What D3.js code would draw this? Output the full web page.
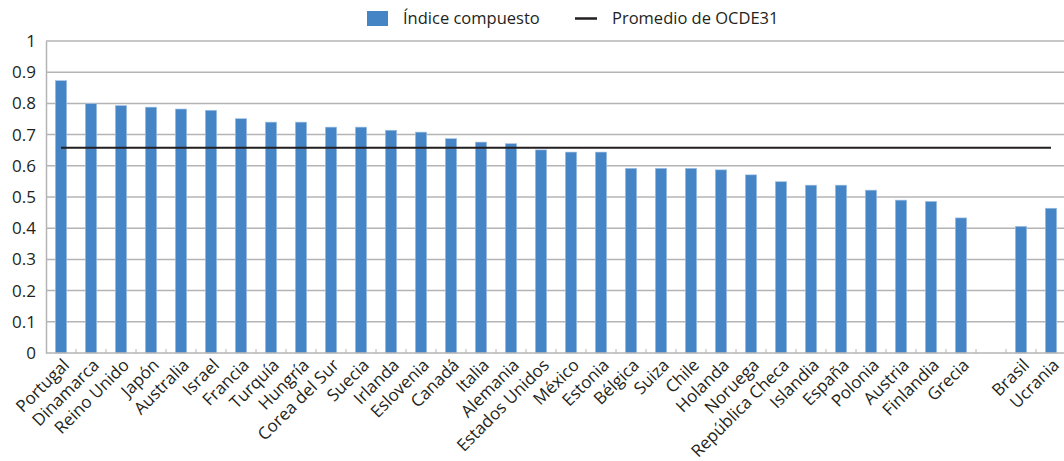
<!DOCTYPE html>
<html>
<head>
<meta charset="utf-8">
<script src="https://d3js.org/d3.v7.min.js"></script>
<style>
body { margin: 0; background: #fff; font-family: "Open Sans", sans-serif; }
text { fill: #231f20; }
</style>
</head>
<body>
<svg width="1064" height="461"></svg>
<script>
// countries in chart order ("" = empty gap before partner countries)
var countries = ["Portugal","Dinamarca","Reino Unido","Japón","Australia","Israel","Francia","Turquía","Hungría","Corea del Sur",
  "Suecia","Irlanda","Eslovenia","Canadá","Italia","Alemania","Estados Unidos","México","Estonia","Bélgica",
  "Suiza","Chile","Holanda","Noruega","República Checa","Islandia","España","Polonia","Austria","Finlandia",
  "Grecia","","Brasil","Ucrania"];
var indice = [0.873,0.799,0.793,0.788,0.782,0.778,0.751,0.740,0.740,0.724,
  0.724,0.714,0.708,0.687,0.676,0.671,0.651,0.644,0.644,0.592,
  0.592,0.592,0.587,0.571,0.549,0.538,0.538,0.522,0.490,0.486,
  0.433,null,0.406,0.464];
var promedio = 0.658;
var yTicks = [0,0.1,0.2,0.3,0.4,0.5,0.6,0.7,0.8,0.9,1];
var legendLabels = ["Índice compuesto","Promedio de OCDE31"];

var svg = d3.select("svg");
var mLeft = 46, mRight = 1066, mTop = 41, mBottom = 353;

var x = d3.scaleBand().domain(d3.range(countries.length)).range([mLeft, mRight]).paddingInner(0.62).paddingOuter(0.31);
var xb = d3.scaleBand().domain(d3.range(countries.length)).range([mLeft, mRight]);
var y = d3.scaleLinear().domain([0, 1]).range([mBottom, mTop]);

// gridlines
svg.append("g").selectAll("line").data(yTicks.slice(1)).enter().append("line")
  .attr("x1", mLeft).attr("x2", mRight)
  .attr("y1", d => y(d)).attr("y2", d => y(d))
  .attr("stroke", "#b4b4b4").attr("stroke-width", 1.5);

// y axis
var yAxis = d3.axisLeft(y).tickValues(yTicks).tickSize(0).tickPadding(10)
  .tickFormat(d => d === 0 ? "0" : d === 1 ? "1" : d3.format(".1f")(d));
var gy = svg.append("g").attr("transform", "translate(" + mLeft + ",0)").call(yAxis);
gy.select(".domain").attr("stroke", "#b4b4b4").attr("stroke-width", 1.5);
gy.selectAll("text").style("font-size", "17px").style("font-family", "Open Sans").attr("fill", "#231f20");

// bars
svg.append("g").selectAll("rect").data(indice.map((v, i) => ({v: v, i: i})).filter(d => d.v !== null))
  .enter().append("rect")
  .attr("x", d => x(d.i)).attr("width", x.bandwidth())
  .attr("y", d => y(d.v)).attr("height", d => y(0) - y(d.v))
  .attr("fill", "#4585c5").attr("stroke", "#a8c5e6").attr("stroke-width", 0.6);

// x axis line + inward ticks at band boundaries
svg.append("line").attr("x1", mLeft).attr("x2", mRight).attr("y1", mBottom).attr("y2", mBottom)
  .attr("stroke", "#b4b4b4").attr("stroke-width", 1.5);
svg.append("g").selectAll("line").data(d3.range(1, countries.length)).enter().append("line")
  .attr("x1", d => xb(d)).attr("x2", d => xb(d))
  .attr("y1", mBottom).attr("y2", mBottom - 4)
  .attr("stroke", "#b4b4b4").attr("stroke-width", 1);

// average line
svg.append("line")
  .attr("x1", xb(0) + xb.bandwidth() / 2).attr("x2", xb(countries.length - 1) + xb.bandwidth() / 2)
  .attr("y1", y(promedio)).attr("y2", y(promedio))
  .attr("stroke", "#231f20").attr("stroke-width", 2);

// x labels
svg.append("g").selectAll("text").data(countries).enter().append("text")
  .attr("transform", (d, i) => "translate(" + (xb(i) + xb.bandwidth() / 2 + 5) + "," + (mBottom + 9) + ") rotate(-45)")
  .attr("text-anchor", "end").attr("dy", "0.35em")
  .style("font-size", "17px")
  .text(d => d);

// legend
var lg = svg.append("g");
lg.append("rect").attr("x", 367).attr("y", 11).attr("width", 21).attr("height", 15).attr("fill", "#4585c5");
lg.append("text").attr("x", 403).attr("y", 24).style("font-size", "16.5px").text(legendLabels[0]);
lg.append("line").attr("x1", 575).attr("x2", 597).attr("y1", 18.5).attr("y2", 18.5).attr("stroke", "#231f20").attr("stroke-width", 2.5);
lg.append("text").attr("x", 612).attr("y", 24).style("font-size", "16.5px").text(legendLabels[1]);
</script>
</body>
</html>
